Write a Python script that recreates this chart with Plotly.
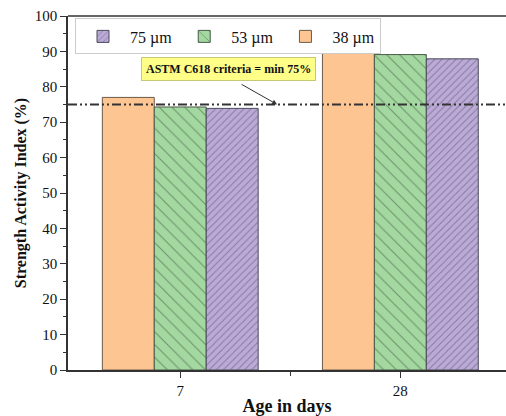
import plotly.graph_objects as go

ages = ["7", "28"]
sizes = ["38 µm", "53 µm", "75 µm"]
sai_38 = [77.0, 89.8]
sai_53 = [74.3, 89.1]
sai_75 = [73.9, 87.9]
criteria = 75

FONT = "Liberation Serif"
xpos = [0, 1]

fig = go.Figure()
fig.add_trace(go.Bar(x=xpos, y=sai_38, name=sizes[0], width=0.236,
                     offset=-0.354,
                     marker=dict(color="#FCC592", line=dict(color="#6b5a4a", width=1))))
fig.add_trace(go.Bar(x=xpos, y=sai_53, name=sizes[1], width=0.236,
                     offset=-0.118,
                     marker=dict(color="#A3D9A0", line=dict(color="#4a5a4a", width=1),
                                 pattern=dict(shape="\\", fillmode="overlay", fgcolor="#3d4a3d",
                                              size=9, solidity=0.12))))
fig.add_trace(go.Bar(x=xpos, y=sai_75, name=sizes[2], width=0.236,
                     offset=0.118,
                     marker=dict(color="#BBAAD6", line=dict(color="#4a4a5a", width=1),
                                 pattern=dict(shape="/", fillmode="overlay", fgcolor="#4a4260",
                                              size=5, solidity=0.18))))

fig.add_hline(y=criteria, line=dict(color="#333333", width=2, dash="9px,3px,2px,3px,2px,3px"))

# arrow
fig.add_annotation(x=0.44, y=criteria, ax=-37, ay=-21, text="", showarrow=True,
                   arrowhead=2, arrowsize=1, arrowwidth=1, arrowcolor="#333333")
fig.add_annotation(x=0.218, y=84.9, text="<b>ASTM C618 criteria = min 75%</b>",
                   showarrow=False, bgcolor="#FFFF88", bordercolor="#C8C870", borderwidth=1,
                   borderpad=4, font=dict(family=FONT, size=12, color="#111"))

# top border line
fig.add_shape(type="line", xref="paper", yref="paper", x0=0, x1=1, y0=1, y1=1,
              line=dict(color="#333", width=1.5))

fig.update_layout(
    width=506, height=416,
    margin=dict(l=68, r=0, t=16, b=43),
    plot_bgcolor="white", paper_bgcolor="white",
    font=dict(family=FONT, color="#111", size=15),
    showlegend=True,
    legend=dict(orientation="h", x=0.016, y=0.993, xanchor="left", yanchor="top",
                traceorder="reversed", bordercolor="#cccccc", borderwidth=1,
                font=dict(family=FONT, size=16), bgcolor="white",
                itemwidth=44, tracegroupgap=0, valign="middle"),
    xaxis=dict(range=[-0.51, 1.48], tickvals=xpos, ticktext=ages, showline=True,
               linecolor="#333", linewidth=1.5, ticks="outside", ticklen=6,
               tickcolor="#333", showgrid=False, zeroline=False,
               minor=dict(tickvals=[0.5], ticks="outside", ticklen=4, tickcolor="#333"),
               title=dict(text="<b>Age in days</b>", font=dict(family=FONT, size=18),
                          standoff=5),
               tickfont=dict(family=FONT, size=15)),
    yaxis=dict(range=[0, 100], dtick=10, showline=True, linecolor="#333", linewidth=1.5,
               ticks="outside", ticklen=6, tickcolor="#333", showgrid=False, zeroline=False,
               minor=dict(dtick=5, ticks="outside", ticklen=3, tickcolor="#333"),
               title=dict(text="<b>Strength Activity Index (%)</b>",
                          font=dict(family=FONT, size=16), standoff=4),
               tickfont=dict(family=FONT, size=15)),
)

fig.write_html("out.html")
